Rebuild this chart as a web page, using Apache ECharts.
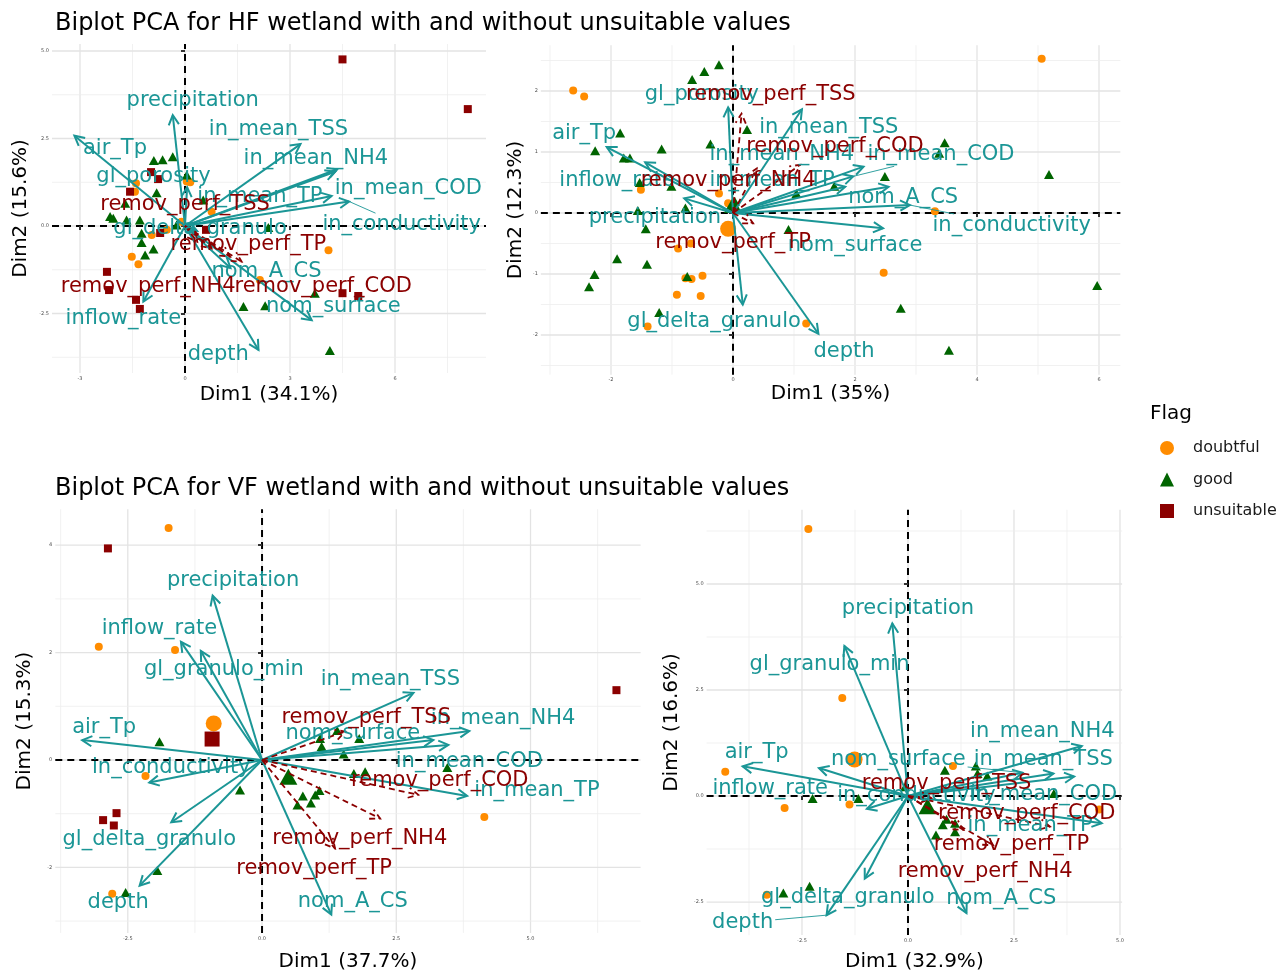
<!DOCTYPE html>
<html><head><meta charset="utf-8">
<script src="https://cdn.jsdelivr.net/npm/echarts@6/dist/echarts.min.js"></script>
<style>html,body{margin:0;padding:0;background:#fff;}#c{width:1284px;height:974px;}</style>
</head><body><div id="c"></div>
<script>
// ---------------- DATA ----------------
// Panel 1: HF wetland, with unsuitable values
const p1Vars = ['precipitation','air_Tp','in_mean_TSS','in_mean_NH4','in_mean_COD','in_mean_TP','in_conductivity','gl_porosity','gl_delta_granulo','nom_A_CS','nom_surface','inflow_rate','depth'];
const p1VarX = [-0.35,-3.16,3.30,4.35,4.29,4.19,4.69,0.06,0.35,1.30,3.62,-1.19,2.10];
const p1VarY = [3.17,2.58,2.34,1.62,1.55,0.86,0.70,1.11,-0.15,-1.20,-2.69,-2.16,-3.54];
const p1LabX = [0.22,-2.00,2.67,3.74,6.38,2.14,6.19,-0.90,0.43,2.33,4.24,-1.76,0.95];
const p1LabY = [3.62,2.25,2.79,1.96,1.12,0.89,0.08,1.46,-0.02,-1.26,-2.26,-2.59,-3.64];
const p1Sup = ['remov_perf_TSS','remov_perf_TP','remov_perf_NH4','remov_perf_COD'];
const p1SupX = [0.35,0.76,1.29,1.62];
const p1SupY = [-0.45,-0.64,-0.88,-1.02];
const p1SupLabX = [0.00,1.81,-1.05,3.95];
const p1SupLabY = [0.65,-0.50,-1.69,-1.69];
const p1DoubtX = [-1.40,0.05,0.15,0.76,-1.52,-1.33,-0.95,-0.52,4.10,2.14,-1.43,-0.10];
const p1DoubtY = [1.22,1.27,1.25,0.41,-0.88,-1.09,-0.26,-0.11,-0.69,-1.54,0.98,0.12];
const p1GoodX = [-0.89,-0.64,-0.35,-0.81,-1.71,-2.14,-2.05,-1.67,-1.29,-1.24,-1.24,-0.90,-1.14,0.52,2.38,1.67,2.29,3.71,4.14,0.05,-0.24];
const p1GoodY = [1.87,1.89,1.98,0.95,0.65,0.27,0.22,0.17,0.17,-0.21,-0.47,-0.66,-0.83,0.74,-0.04,-2.30,-2.28,-1.92,-3.56,1.46,0.03];
const p1UnsX = [4.50,8.08,-0.97,-0.77,-1.57,-0.71,0.60,-2.23,-2.17,-1.40,-1.29,4.50,4.95];
const p1UnsY = [4.76,3.34,1.54,1.34,0.98,-0.20,-0.11,-1.31,-1.83,-2.11,-2.37,-1.92,-2.00];
const p1Seg = ['in_conductivity'];

// Panel 2: HF wetland, without unsuitable values
const p2Vars = ['gl_porosity','air_Tp','inflow_rate','precipitation','in_mean_TSS','in_mean_NH4','in_mean_COD','in_mean_TP','nom_A_CS','in_conductivity','nom_surface','gl_delta_granulo','depth'];
const p2VarX = [-0.08,-2.07,-1.44,-0.80,1.13,2.14,1.97,1.84,2.55,2.90,2.46,0.16,1.40];
const p2VarY = [1.73,1.08,0.83,0.24,1.70,0.76,0.60,0.43,0.43,0.13,-0.25,-1.50,-1.98];
const p2LabX = [-0.51,-2.44,-1.90,-1.28,1.57,0.80,3.41,0.64,2.79,4.57,2.00,-0.31,1.82];
const p2LabY = [1.97,1.33,0.56,-0.05,1.43,0.98,0.98,0.56,0.28,-0.18,-0.51,-1.75,-2.25];
const p2Sup = ['remov_perf_TSS','remov_perf_COD','remov_perf_NH4','remov_perf_TP'];
const p2SupX = [0.14,1.10,0.39,0.33];
const p2SupY = [1.63,0.79,0.73,-0.17];
const p2SupLabX = [0.62,1.67,-0.08,0.00];
const p2SupLabY = [1.97,1.11,0.56,-0.46];
const p2DoubtX = [-2.62,-2.44,5.06,-1.51,-0.23,-0.08,3.31,-0.90,-0.69,-0.78,-0.68,-0.50,-0.92,-0.53,-1.40,1.20,2.47];
const p2DoubtY = [2.01,1.91,2.53,0.38,0.32,0.16,0.03,-0.58,-0.50,-1.07,-1.08,-1.03,-1.34,-1.36,-1.86,-1.81,-0.98];
const p2GoodX = [-0.67,-0.47,-0.23,-1.85,-2.26,-1.17,-1.79,-1.69,-0.37,0.23,3.47,3.38,5.18,2.49,1.66,1.04,-1.53,-1.01,-0.78,-1.56,-1.43,0.03,0.91,-1.90,-1.41,-2.27,-2.36,-0.75,-1.21,2.75,3.54,5.97];
const p2GoodY = [2.19,2.32,2.43,1.31,1.02,1.05,0.90,0.90,1.13,1.37,1.15,0.98,0.63,0.60,0.44,0.32,0.50,0.44,0.08,0.04,-0.26,0.19,-0.27,-0.75,-0.84,-1.01,-1.21,-1.04,-1.63,-1.56,-2.25,-1.19];
const p2MeanDoubt = [-0.08,-0.26];
const p2MeanGood = [0.00,0.13];
const p2Seg = ['in_conductivity','in_mean_COD'];

// Panel 3: VF wetland, with unsuitable values
const p3Vars = ['precipitation','inflow_rate','gl_granulo_min','air_Tp','in_conductivity','gl_delta_granulo','depth','nom_A_CS','in_mean_TSS','in_mean_NH4','nom_surface','in_mean_COD','in_mean_TP'];
const p3VarX = [-0.92,-1.51,-1.14,-3.35,-2.10,-1.69,-2.28,1.29,2.82,3.86,3.19,3.47,3.82];
const p3VarY = [3.06,2.20,2.03,0.37,-0.42,-1.16,-2.34,-2.88,1.25,0.54,0.37,0.28,-0.67];
const p3LabX = [-0.54,-1.91,-0.71,-2.94,-1.69,-2.10,-2.68,1.69,2.39,4.49,1.69,3.86,5.12];
const p3LabY = [3.37,2.48,1.71,0.63,-0.11,-1.45,-2.63,-2.60,1.52,0.80,0.52,0.00,-0.54];
const p3Sup = ['remov_perf_TSS','remov_perf_COD','remov_perf_NH4','remov_perf_TP'];
const p3SupX = [1.55,2.91,2.20,1.36];
const p3SupY = [0.53,-0.65,-1.09,-1.65];
const p3SupLabX = [1.94,3.31,1.82,0.97];
const p3SupLabY = [0.82,-0.35,-1.43,-1.99];
const p3DoubtX = [-1.74,-3.04,-1.62,-2.17,4.14,-2.79];
const p3DoubtY = [4.32,2.11,2.05,-0.30,-1.06,-2.49];
const p3GoodX = [-1.91,-0.41,1.08,1.11,1.81,1.52,1.71,1.92,3.45,0.76,0.99,1.07,0.66,0.91,-1.95,-2.54,1.40];
const p3GoodY = [0.34,-0.56,0.40,0.25,0.40,0.11,-0.25,-0.22,-0.14,-0.67,-0.65,-0.57,-0.84,-0.80,-2.06,-2.47,0.55];
const p3UnsX = [-2.87,6.60,-2.96,-2.71,-2.76];
const p3UnsY = [3.94,1.30,-1.12,-0.99,-1.22];
const p3MeanDoubt = [-0.90,0.68];
const p3MeanUns = [-0.93,0.39];
const p3MeanGood = [0.49,-0.31];
const p3Seg = [];

// Panel 4: VF wetland, without unsuitable values
const p4Vars = ['precipitation','gl_granulo_min','air_Tp','inflow_rate','in_conductivity','nom_surface','in_mean_NH4','in_mean_TSS','in_mean_COD','in_mean_TP','nom_A_CS','gl_delta_granulo','depth'];
const p4VarX = [-0.37,-1.50,-3.90,-2.10,-0.97,2.70,4.10,3.43,3.92,4.57,1.38,-1.02,-1.92];
const p4VarY = [4.07,3.54,0.70,0.66,-0.30,0.55,1.18,0.53,0.46,-0.64,-2.76,-1.95,-2.81];
const p4LabX = [0.00,-1.85,-3.57,-3.25,0.20,-0.23,3.17,3.19,3.20,2.88,2.20,-1.42,-3.90];
const p4LabY = [4.46,3.13,1.05,0.22,0.05,0.89,1.55,0.89,0.06,-0.66,-2.39,-2.35,-2.95];
const p4Sup = ['remov_perf_TSS','remov_perf_COD','remov_perf_TP','remov_perf_NH4'];
const p4SupX = [0.55,3.35,2.01,1.31];
const p4SupY = [-0.05,-0.72,-1.16,-0.80];
const p4SupLabX = [0.91,2.80,2.44,1.82];
const p4SupLabY = [0.34,-0.37,-1.10,-1.75];
const p4DoubtX = [-2.35,-1.55,-4.31,1.06,-2.91,-1.38,4.51,-3.33];
const p4DoubtY = [6.30,2.31,0.57,0.71,-0.28,-0.20,-0.32,-2.33];
const p4GoodX = [-2.25,-1.17,-2.94,-2.32,0.87,1.60,1.64,1.87,3.44,0.91,1.11,0.82,1.11,0.66,-0.07];
const p4GoodY = [-0.06,-0.06,-2.29,-2.13,0.61,0.71,0.53,0.47,0.06,-0.55,-0.64,-0.68,-0.84,-0.92,0.22];
const p4MeanDoubt = [-1.26,0.86];
const p4MeanGood = [0.46,-0.24];
const p4Seg = ['depth','nom_surface'];

// Tick values and labels
const p1XTicks = [-3,0,3,6];        const p1XTickLab = ['-3','0','3','6'];
const p1YTicks = [-2.5,0,2.5,5];    const p1YTickLab = ['-2.5','0.0','2.5','5.0'];
const p2XTicks = [-2,0,2,4,6];      const p2XTickLab = ['-2','0','2','4','6'];
const p2YTicks = [-2,-1,0,1,2];     const p2YTickLab = ['-2','-1','0','1','2'];
const p3XTicks = [-2.5,0,2.5,5];    const p3XTickLab = ['-2.5','0.0','2.5','5.0'];
const p3YTicks = [-2,0,2,4];        const p3YTickLab = ['-2','0','2','4'];
const p4XTicks = [-2.5,0,2.5,5];    const p4XTickLab = ['-2.5','0.0','2.5','5.0'];
const p4YTicks = [-2.5,0,2.5,5];    const p4YTickLab = ['-2.5','0.0','2.5','5.0'];

const titles = ['Biplot PCA for HF wetland with and without unsuitable values','Biplot PCA for VF wetland with and without unsuitable values'];
const xNames = ['Dim1 (34.1%)','Dim1 (35%)','Dim1 (37.7%)','Dim1 (32.9%)'];
const yNames = ['Dim2 (15.6%)','Dim2 (12.3%)','Dim2 (15.3%)','Dim2 (16.6%)'];
const flags = ['doubtful','good','unsuitable'];

// ---------------- STYLE / LAYOUT ----------------
const TEAL = '#1b9696', RED = '#8b0000', ORANGE = '#ff8c00', GREEN = '#006400';
const FONT = 'DejaVu Sans';
const LABEL_SIZE = 21;
const measureCtx = document.createElement('canvas').getContext('2d');
measureCtx.font = LABEL_SIZE + 'px "DejaVu Sans"';
const textW = t => measureCtx.measureText(t).width;

const zip = (xs, ys) => xs.map((x, i) => [x, ys[i]]);

const panels = [
  { box:{left:52, top:44, width:434, height:329}, xr:[-3.8,8.6], yr:[-4.2,5.2],
    xt:p1XTicks, xtl:p1XTickLab, yt:p1YTicks, ytl:p1YTickLab, xGap:12, yGap:21,
    vars:p1Vars, vx:p1VarX, vy:p1VarY, lx:p1LabX, ly:p1LabY,
    sup:p1Sup, sx:p1SupX, sy:p1SupY, slx:p1SupLabX, sly:p1SupLabY,
    doubt:zip(p1DoubtX,p1DoubtY), good:zip(p1GoodX,p1GoodY), uns:zip(p1UnsX,p1UnsY),
    means:[], seg:p1Seg },
  { box:{left:540.85, top:45.25, width:579.5, height:329.4}, xr:[-3.15,6.35], yr:[-2.65,2.75],
    xt:p2XTicks, xtl:p2XTickLab, yt:p2YTicks, ytl:p2YTickLab, xGap:9, yGap:15,
    vars:p2Vars, vx:p2VarX, vy:p2VarY, lx:p2LabX, ly:p2LabY,
    sup:p2Sup, sx:p2SupX, sy:p2SupY, slx:p2SupLabX, sly:p2SupLabY,
    doubt:zip(p2DoubtX,p2DoubtY), good:zip(p2GoodX,p2GoodY), uns:[],
    means:[['doubtful',p2MeanDoubt],['good',p2MeanGood]], seg:p2Seg },
  { box:{left:55.3, top:509.2, width:585.3, height:423.7}, xr:[-3.85,7.05], yr:[-3.22,4.67],
    xt:p3XTicks, xtl:p3XTickLab, yt:p3YTicks, ytl:p3YTickLab, xGap:19, yGap:21,
    vars:p3Vars, vx:p3VarX, vy:p3VarY, lx:p3LabX, ly:p3LabY,
    sup:p3Sup, sx:p3SupX, sy:p3SupY, slx:p3SupLabX, sly:p3SupLabY,
    doubt:zip(p3DoubtX,p3DoubtY), good:zip(p3GoodX,p3GoodY), uns:zip(p3UnsX,p3UnsY),
    means:[['doubtful',p3MeanDoubt],['unsuitable',p3MeanUns],['good',p3MeanGood]], seg:p3Seg },
  { box:{left:706.6, top:509.8, width:415.5, height:425.3}, xr:[-4.75,5.05], yr:[-3.28,6.75],
    xt:p4XTicks, xtl:p4XTickLab, yt:p4YTicks, ytl:p4YTickLab, xGap:17, yGap:25,
    vars:p4Vars, vx:p4VarX, vy:p4VarY, lx:p4LabX, ly:p4LabY,
    sup:p4Sup, sx:p4SupX, sy:p4SupY, slx:p4SupLabX, sly:p4SupLabY,
    doubt:zip(p4DoubtX,p4DoubtY), good:zip(p4GoodX,p4GoodY), uns:[],
    means:[['doubtful',p4MeanDoubt],['good',p4MeanGood]], seg:p4Seg }
];

const flagStyle = {
  doubtful:{symbol:'circle', size:8, big:16, color:ORANGE},
  good:{symbol:'triangle', size:[10,9], big:[18,16], color:GREEN},
  unsuitable:{symbol:'rect', size:8, big:15, color:RED}
};

const grids = [], xAxes = [], yAxes = [], series = [];

function tickFmt(ticks, labs){ return v => { const k = ticks.findIndex(t => Math.abs(t - v) < 1e-9); return k >= 0 ? labs[k] : ''; }; }

panels.forEach((P, i) => {
  grids.push(Object.assign({}, P.box));
  const axisCommon = {
    axisLine:{show:false}, splitLine:{show:false},
    axisTick:{show:true, length:4, lineStyle:{color:'#333', width:2}},
    nameTextStyle:{fontSize:20, color:'#000', fontFamily:FONT},
    nameLocation:'middle'
  };
  xAxes.push(Object.assign({}, axisCommon, {
    type:'value', gridIndex:i, min:P.xr[0], max:P.xr[1], position:'bottom',
    name:xNames[i], nameGap:P.xGap,
    axisTick:Object.assign({}, axisCommon.axisTick, {customValues:P.xt}),
    axisLabel:{customValues:P.xt, formatter:tickFmt(P.xt,P.xtl), fontSize:5, color:'#4d4d4d', margin:3, fontFamily:FONT}
  }));
  yAxes.push(Object.assign({}, axisCommon, {
    type:'value', gridIndex:i, min:P.yr[0], max:P.yr[1], position:'left',
    name:yNames[i], nameGap:P.yGap, nameRotate:90,
    axisTick:Object.assign({}, axisCommon.axisTick, {customValues:P.yt}),
    axisLabel:{customValues:P.yt, formatter:tickFmt(P.yt,P.ytl), fontSize:5, color:'#4d4d4d', margin:3, fontFamily:FONT}
  }));

  // grid lines + zero dashed lines
  series.push({
    type:'custom', xAxisIndex:i, yAxisIndex:i, z:0, silent:true, clip:false, data:[[0,0]],
    renderItem:(params, api) => {
      const ch = [];
      const hx = (P.xt[1]-P.xt[0])/2, hy = (P.yt[1]-P.yt[0])/2;
      for (let k = Math.ceil(P.xr[0]/hx - 1e-9); k*hx <= P.xr[1] + 1e-9; k++) {
        const v = k*hx, major = k % 2 === 0;
        const a = api.coord([v,P.yr[0]]), b = api.coord([v,P.yr[1]]);
        ch.push({type:'line', shape:{x1:a[0],y1:a[1],x2:b[0],y2:b[1]}, style:{stroke: major?'#e3e3e3':'#eeeeee', lineWidth: major?1.3:0.8}});
      }
      for (let k = Math.ceil(P.yr[0]/hy - 1e-9); k*hy <= P.yr[1] + 1e-9; k++) {
        const v = k*hy, major = k % 2 === 0;
        const a = api.coord([P.xr[0],v]), b = api.coord([P.xr[1],v]);
        ch.push({type:'line', shape:{x1:a[0],y1:a[1],x2:b[0],y2:b[1]}, style:{stroke: major?'#e3e3e3':'#eeeeee', lineWidth: major?1.3:0.8}});
      }
      let a = api.coord([P.xr[0],0]), b = api.coord([P.xr[1],0]);
      ch.push({type:'line', shape:{x1:a[0],y1:a[1],x2:b[0],y2:b[1]}, style:{stroke:'#000', lineWidth:2, lineDash:[7,5]}});
      a = api.coord([0,P.yr[0]]); b = api.coord([0,P.yr[1]]);
      ch.push({type:'line', shape:{x1:a[0],y1:a[1],x2:b[0],y2:b[1]}, style:{stroke:'#000', lineWidth:2, lineDash:[7,5]}});
      return {type:'group', children:ch};
    }
  });

  // points
  [['doubtful',P.doubt],['good',P.good],['unsuitable',P.uns]].forEach(([f, pts]) => {
    if (!pts.length) return;
    const s = flagStyle[f];
    series.push({type:'scatter', name:f, xAxisIndex:i, yAxisIndex:i, data:pts, symbol:s.symbol, symbolSize:s.size,
      itemStyle:{color:s.color, opacity:1}, z:2, silent:true});
  });
  P.means.forEach(([f, pt]) => {
    const s = flagStyle[f];
    series.push({type:'scatter', name:'mean '+f, xAxisIndex:i, yAxisIndex:i, data:[pt], symbol:s.symbol, symbolSize:s.big,
      itemStyle:{color:s.color, opacity:1}, z:2, silent:true});
  });

  // arrows
  const arrowData = P.vars.map((n,k) => [P.vx[k], P.vy[k], 0]).concat(P.sup.map((n,k) => [P.sx[k], P.sy[k], 1]));
  series.push({
    type:'custom', xAxisIndex:i, yAxisIndex:i, z:3, silent:true, clip:false, data:arrowData,
    renderItem:(params, api) => {
      const supp = api.value(2) === 1;
      const p0 = api.coord([0,0]), p1 = api.coord([api.value(0), api.value(1)]);
      const ang = Math.atan2(p1[1]-p0[1], p1[0]-p0[0]);
      const L = 11, a = Math.PI/6.5;
      const h1 = [p1[0]-L*Math.cos(ang-a), p1[1]-L*Math.sin(ang-a)];
      const h2 = [p1[0]-L*Math.cos(ang+a), p1[1]-L*Math.sin(ang+a)];
      const st = {stroke: supp?RED:TEAL, lineWidth: supp?1.8:2, fill:null, lineDash: supp?[6,4]:null};
      return {type:'group', children:[
        {type:'line', shape:{x1:p0[0],y1:p0[1],x2:p1[0],y2:p1[1]}, style:st},
        {type:'polyline', shape:{points:[h1,p1,h2]}, style:st}
      ]};
    }
  });

  // labels
  const names = P.vars.concat(P.sup);
  const labData = P.vars.map((n,k) => [P.lx[k], P.ly[k], P.vx[k], P.vy[k], 0, k])
    .concat(P.sup.map((n,k) => [P.slx[k], P.sly[k], P.sx[k], P.sy[k], 1, P.vars.length + k]));
  series.push({
    type:'custom', xAxisIndex:i, yAxisIndex:i, z:4, silent:true, clip:false, data:labData,
    renderItem:(params, api) => {
      const supp = api.value(4) === 1;
      const name = names[api.value(5)];
      const c0 = api.coord([api.value(0), api.value(1)]);
      const c = [c0[0], c0[1] + 1.5];
      const t = api.coord([api.value(2), api.value(3)]);
      const color = supp ? RED : TEAL;
      const ch = [];
      if (P.seg.indexOf(name) >= 0) {
        const hw = textW(name)/2 + 2, hh = LABEL_SIZE*0.55;
        const dx = t[0]-c[0], dy = t[1]-c[1];
        const s = Math.min(dx !== 0 ? hw/Math.abs(dx) : Infinity, dy !== 0 ? hh/Math.abs(dy) : Infinity);
        if (s < 1) ch.push({type:'line', shape:{x1:c[0]+dx*s, y1:c[1]+dy*s, x2:t[0], y2:t[1]}, style:{stroke:color, lineWidth:0.9}});
      }
      ch.push({type:'text', x:c[0], y:c[1], style:{text:name, fill:color, fontSize:LABEL_SIZE, fontFamily:FONT, align:'center', verticalAlign:'middle'}});
      return {type:'group', children:ch};
    }
  });
});

const chart = echarts.init(document.getElementById('c'), null, {renderer:'canvas'});
chart.setOption({
  animation:false,
  backgroundColor:'#ffffff',
  title:[
    {text:titles[0], left:55, top:12, padding:0, textStyle:{fontSize:24, fontWeight:'normal', color:'#000', fontFamily:FONT}},
    {text:titles[1], left:55, top:477, padding:0, textStyle:{fontSize:24, fontWeight:'normal', color:'#000', fontFamily:FONT}},
    {text:'Flag', left:1150, top:404, padding:0, textStyle:{fontSize:20, fontWeight:'normal', color:'#000', fontFamily:FONT}}
  ],
  legend:{
    orient:'vertical', left:1160, top:440, padding:0, itemWidth:14, itemHeight:14, itemGap:15.5, selectedMode:false,
    textStyle:{fontSize:16, color:'#1a1a1a', fontFamily:FONT, padding:[0,0,0,14]},
    data:[{name:'doubtful', icon:'circle'},{name:'good', icon:'triangle'},{name:'unsuitable', icon:'rect'}]
  },
  grid:grids, xAxis:xAxes, yAxis:yAxes, series:series
});
</script></body></html>
